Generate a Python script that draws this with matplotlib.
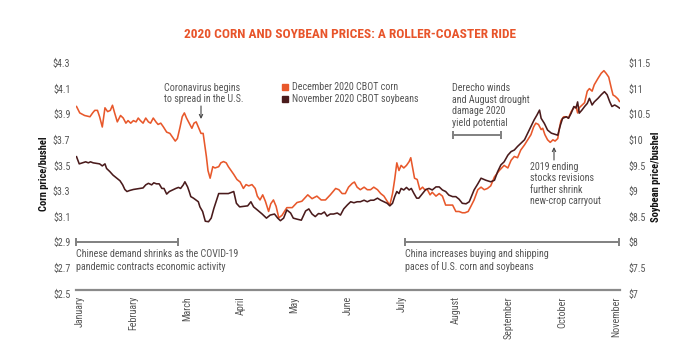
import matplotlib
matplotlib.use("Agg")
import matplotlib.pyplot as plt
import matplotlib.font_manager as fm
from matplotlib.lines import Line2D
from matplotlib.patches import FancyArrowPatch

_installed = {f.name for f in fm.fontManager.ttflist}
_pref = ['Roboto Condensed', 'Archivo Narrow', 'Barlow Semi Condensed',
         'Asap Condensed', 'Liberation Sans Narrow']
FONT = [p for p in _pref if p in _installed][:1] + ['DejaVu Sans']
plt.rcParams['font.family'] = FONT

TITLE = "2020 CORN AND SOYBEAN PRICES: A ROLLER-COASTER RIDE"
months = ["January", "February", "March", "April", "May", "June", "July",
          "August", "September", "October", "November"]
corn_ticks = [2.5, 2.7, 2.9, 3.1, 3.3, 3.5, 3.7, 3.9, 4.1, 4.3]
corn_tick_labels = ["$2.5", "$2.7", "$2.9", "$3.1", "$3.3", "$3.5", "$3.7", "$3.9", "$4.1", "$4.3"]
soy_ticks = [7, 7.5, 8, 8.5, 9, 9.5, 10, 10.5, 11, 11.5]
soy_tick_labels = ["$7", "$7.5", "$8", "$8.5", "$9", "$9.5", "$10", "$10.5", "$11", "$11.5"]

# x positions in months since Jan 1 (0 = January, 10 = November)
corn_x = [-0.06, 0.00, 0.09, 0.19, 0.24, 0.28, 0.33, 0.37, 0.42, 0.47,
          0.52, 0.57, 0.61, 0.65, 0.70, 0.76, 0.81, 0.86, 0.90, 0.95,
          1.00, 1.05, 1.09, 1.13, 1.18, 1.23, 1.28, 1.32, 1.37, 1.42,
          1.46, 1.51, 1.56, 1.62, 1.68, 1.73, 1.78, 1.82, 1.87, 1.91,
          1.95, 1.99, 2.04, 2.09, 2.13, 2.17, 2.21, 2.26, 2.30, 2.36,
          2.39, 2.43, 2.48, 2.52, 2.59, 2.63, 2.68, 2.73, 2.77, 2.82,
          2.87, 2.93, 2.99, 3.05, 3.10, 3.15, 3.21, 3.27, 3.31, 3.36,
          3.41, 3.46, 3.52, 3.56, 3.61, 3.66, 3.71, 3.77, 3.86, 3.96,
          4.05, 4.14, 4.25, 4.33, 4.42, 4.50, 4.58, 4.67, 4.77, 4.83,
          4.89, 4.95, 5.01, 5.08, 5.12, 5.17, 5.23, 5.30, 5.36, 5.42,
          5.48, 5.55, 5.61, 5.67, 5.73, 5.78, 5.83, 5.87, 5.91, 5.95,
          5.99, 6.04, 6.09, 6.14, 6.17, 6.20, 6.24, 6.29, 6.34, 6.39,
          6.43, 6.48, 6.53, 6.57, 6.64, 6.70, 6.76, 6.82, 6.88, 6.95,
          7.01, 7.07, 7.13, 7.18, 7.24, 7.29, 7.35, 7.42, 7.48, 7.54,
          7.60, 7.66, 7.73, 7.82, 7.91, 7.98, 8.04, 8.10, 8.16, 8.22,
          8.29, 8.35, 8.41, 8.46, 8.50, 8.55, 8.60, 8.63, 8.67, 8.72,
          8.77, 8.82, 8.86, 8.91, 8.94, 8.97, 9.02, 9.07, 9.11, 9.16,
          9.21, 9.25, 9.28, 9.31, 9.36, 9.41, 9.46, 9.50, 9.55, 9.59,
          9.66, 9.72, 9.77, 9.81, 9.86, 9.91, 9.94, 9.98, 10.03, 10.06]
corn = [3.96, 3.91, 3.89, 3.88, 3.91, 3.93, 3.93, 3.88, 3.80, 3.95,
        3.92, 3.93, 3.97, 3.91, 3.84, 3.89, 3.87, 3.83, 3.85, 3.83,
        3.85, 3.84, 3.87, 3.85, 3.83, 3.87, 3.84, 3.83, 3.87, 3.84,
        3.82, 3.83, 3.80, 3.76, 3.75, 3.72, 3.69, 3.71, 3.80, 3.88,
        3.91, 3.87, 3.83, 3.79, 3.83, 3.84, 3.80, 3.75, 3.75, 3.57,
        3.46, 3.40, 3.49, 3.48, 3.49, 3.52, 3.53, 3.52, 3.49, 3.46,
        3.43, 3.39, 3.37, 3.32, 3.35, 3.34, 3.35, 3.32, 3.26, 3.23,
        3.27, 3.22, 3.14, 3.20, 3.23, 3.18, 3.09, 3.11, 3.17, 3.17,
        3.21, 3.22, 3.27, 3.24, 3.26, 3.23, 3.23, 3.27, 3.32, 3.31,
        3.28, 3.28, 3.33, 3.36, 3.37, 3.33, 3.31, 3.33, 3.31, 3.31,
        3.33, 3.31, 3.28, 3.26, 3.22, 3.19, 3.28, 3.39, 3.52, 3.46,
        3.50, 3.48, 3.50, 3.53, 3.56, 3.49, 3.40, 3.39, 3.31, 3.33,
        3.31, 3.31, 3.27, 3.29, 3.26, 3.28, 3.26, 3.19, 3.19, 3.19,
        3.14, 3.14, 3.13, 3.13, 3.14, 3.18, 3.23, 3.31, 3.33, 3.31,
        3.32, 3.34, 3.41, 3.46, 3.50, 3.48, 3.54, 3.57, 3.56, 3.62,
        3.66, 3.70, 3.74, 3.80, 3.83, 3.82, 3.78, 3.79, 3.74, 3.70,
        3.68, 3.70, 3.69, 3.71, 3.79, 3.85, 3.88, 3.88, 3.87, 3.92,
        3.95, 3.96, 3.91, 3.95, 3.97, 3.99, 4.08, 4.10, 4.08, 4.13,
        4.18, 4.22, 4.24, 4.22, 4.19, 4.10, 4.05, 4.04, 4.02, 4.00]

soy_x = [-0.06, -0.01, 0.05, 0.11, 0.16, 0.20, 0.25, 0.31, 0.37, 0.42,
         0.47, 0.50, 0.56, 0.62, 0.69, 0.75, 0.80, 0.84, 0.88, 0.93,
         1.00, 1.06, 1.12, 1.18, 1.23, 1.28, 1.34, 1.38, 1.43, 1.48,
         1.53, 1.57, 1.62, 1.67, 1.73, 1.79, 1.84, 1.88, 1.93, 1.96,
         2.01, 2.04, 2.07, 2.12, 2.17, 2.21, 2.24, 2.29, 2.34, 2.40,
         2.45, 2.50, 2.59, 2.68, 2.77, 2.87, 2.92, 2.98, 3.05, 3.13,
         3.19, 3.24, 3.31, 3.40, 3.48, 3.55, 3.63, 3.69, 3.74, 3.80,
         3.86, 3.93, 3.98, 4.05, 4.13, 4.21, 4.27, 4.33, 4.39, 4.45,
         4.50, 4.56, 4.61, 4.67, 4.73, 4.80, 4.86, 4.92, 4.99, 5.05,
         5.11, 5.17, 5.23, 5.30, 5.36, 5.42, 5.48, 5.55, 5.61, 5.67,
         5.73, 5.78, 5.83, 5.87, 5.91, 5.95, 5.99, 6.04, 6.09, 6.14,
         6.18, 6.23, 6.28, 6.32, 6.39, 6.45, 6.51, 6.57, 6.64, 6.70,
         6.76, 6.82, 6.88, 6.95, 7.01, 7.07, 7.13, 7.20, 7.26, 7.30,
         7.35, 7.42, 7.48, 7.57, 7.66, 7.73, 7.79, 7.85, 7.91, 7.98,
         8.04, 8.10, 8.16, 8.22, 8.29, 8.35, 8.41, 8.47, 8.52, 8.57,
         8.60, 8.66, 8.72, 8.79, 8.85, 8.91, 8.96, 9.00, 9.07, 9.11,
         9.16, 9.21, 9.25, 9.28, 9.31, 9.36, 9.41, 9.46, 9.50, 9.55,
         9.59, 9.66, 9.72, 9.78, 9.83, 9.88, 9.92, 9.97, 10.02, 10.06]
soy = [9.67, 9.53, 9.55, 9.57, 9.55, 9.57, 9.55, 9.54, 9.53, 9.49,
       9.53, 9.44, 9.38, 9.31, 9.25, 9.20, 9.12, 9.03, 8.99, 9.01,
       9.03, 9.04, 9.05, 9.06, 9.12, 9.15, 9.12, 9.16, 9.14, 9.14,
       9.05, 9.05, 8.94, 8.99, 9.02, 9.05, 9.07, 9.05, 9.12, 9.18,
       9.08, 8.99, 8.89, 8.86, 8.82, 8.79, 8.69, 8.60, 8.41, 8.40,
       8.47, 8.66, 8.95, 8.95, 8.95, 8.99, 8.76, 8.69, 8.70, 8.71,
       8.79, 8.69, 8.63, 8.55, 8.47, 8.53, 8.55, 8.47, 8.42, 8.47,
       8.63, 8.57, 8.47, 8.45, 8.43, 8.61, 8.65, 8.55, 8.50, 8.56,
       8.55, 8.59, 8.51, 8.55, 8.55, 8.57, 8.53, 8.65, 8.73, 8.79,
       8.77, 8.79, 8.79, 8.82, 8.79, 8.82, 8.82, 8.86, 8.82, 8.79,
       8.76, 8.71, 8.76, 8.89, 8.99, 8.95, 9.05, 9.02, 9.07, 9.02,
       9.05, 8.95, 8.86, 8.86, 8.95, 9.03, 9.05, 9.02, 9.08, 9.08,
       9.02, 8.99, 8.92, 8.89, 8.89, 8.84, 8.76, 8.75, 8.79, 8.89,
       9.02, 9.14, 9.25, 9.21, 9.18, 9.21, 9.38, 9.51, 9.57, 9.70,
       9.77, 9.80, 9.87, 9.93, 10.00, 10.13, 10.26, 10.39, 10.48, 10.58,
       10.42, 10.32, 10.19, 10.13, 10.11, 10.09, 10.29, 10.42, 10.45, 10.42,
       10.52, 10.65, 10.62, 10.74, 10.52, 10.58, 10.65, 10.71, 10.81, 10.68,
       10.74, 10.81, 10.88, 10.94, 10.88, 10.74, 10.65, 10.68, 10.65, 10.62]

# annotated periods (months) and their bar levels (corn axis)
covid_period = (-0.07, 1.83)
china_period = (6.07, 10.06)
derecho_period = (6.95, 7.85)
period_bar_level = 2.9
derecho_bar_level = 3.74

CORN_C = "#E8582B"
SOY_C = "#4A1B1C"
GRAY = "#808080"
TXT = "#555555"
FS = 7.2

W, H = 700, 364
fig = plt.figure(figsize=(W / 100, H / 100), dpi=100)
fig.patch.set_facecolor("white")


def fx(x):
    return x / W


def fy(y):
    return 1 - y / H


ax_left, ax_right, ax_top, ax_bot = 76, 620, 63, 293.4
ax = fig.add_axes([fx(ax_left), fy(ax_bot), (ax_right - ax_left) / W, (ax_bot - ax_top) / H])
ax.set_xlim(-0.07, 10.07)
ax.set_ylim(2.5, 4.3)
ax2 = ax.twinx()
ax2.set_ylim(7, 11.5)
for a in (ax, ax2):
    for s in a.spines.values():
        s.set_visible(False)
    a.patch.set_visible(False)

ax.plot(corn_x, corn, color=CORN_C, lw=1.15, solid_joinstyle="round", zorder=3)
ax2.plot(soy_x, soy, color=SOY_C, lw=1.15, solid_joinstyle="round", zorder=3)

ax.set_yticks(corn_ticks)
ax.set_yticklabels(corn_tick_labels)
ax2.set_yticks(soy_ticks)
ax2.set_yticklabels(soy_tick_labels)
ax.tick_params(axis="y", length=0, pad=4, labelsize=FS, labelcolor=TXT)
ax2.tick_params(axis="y", length=0, pad=6, labelsize=FS, labelcolor=TXT)
ax.set_xticks(range(len(months)))
ax.set_xticklabels(months, rotation=90, va="top", ha="center")
ax.tick_params(axis="x", length=0, pad=2, labelsize=FS, labelcolor=TXT)

# bottom rule
fig.add_artist(Line2D([fx(ax_left), fx(ax_right)], [fy(289.5), fy(289.5)],
                      color="#8a8a8a", lw=1.6))


# period bars
def period_bar(period, level):
    ax.plot(list(period), [level, level], color=GRAY, lw=1.4, marker="|",
            markersize=6, markeredgewidth=1.4, clip_on=False, zorder=2)


period_bar(covid_period, period_bar_level)
period_bar(china_period, period_bar_level)
period_bar(derecho_period, derecho_bar_level)

tkw = dict(fontsize=FS, color=TXT, ha="left", va="center", linespacing=1.17)
fig.text(fx(164), fy(93.5), "Coronavirus begins\nto spread in the U.S.", **tkw)
fig.text(fx(452), fy(105.5), "Derecho winds\nand August drought\ndamage 2020\nyield potential", **tkw)
fig.text(fx(530), fy(184), "2019 ending\nstocks revisions\nfurther shrink\nnew-crop carryout", **tkw)
tkw2 = dict(tkw, linespacing=1.28)
fig.text(fx(76), fy(260.5), "Chinese demand shrinks as the COVID-19\npandemic contracts economic activity", **tkw2)
fig.text(fx(405), fy(260.5), "China increases buying and shipping\npaces of U.S. corn and soybeans", **tkw2)

arrow_kw = dict(arrowstyle="->", color="#444444", lw=0.8, shrinkA=0, shrinkB=0)
fig.add_artist(FancyArrowPatch((fx(201), fy(106)), (fx(201), fy(119)),
                               transform=fig.transFigure, mutation_scale=6, **arrow_kw))
fig.add_artist(FancyArrowPatch((fx(554), fy(160)), (fx(554), fy(147)),
                               transform=fig.transFigure, mutation_scale=6, **arrow_kw))

# legend
handles = [Line2D([], [], marker="s", ls="", color=CORN_C, markersize=5),
           Line2D([], [], marker="s", ls="", color=SOY_C, markersize=5)]
fig.legend(handles, ["December 2020 CBOT corn", "November 2020 CBOT soybeans"],
           loc="upper left", bbox_to_anchor=(fx(281), fy(82)), frameon=False,
           fontsize=FS, handlelength=0.7, handletextpad=0.35, labelspacing=0.2,
           borderpad=0, borderaxespad=0, labelcolor=TXT)

fig.text(0.5, fy(35), TITLE, ha="center", va="center", color="#E8542A",
         fontsize=9.6, fontweight="bold")
fig.text(fx(44), fy(174), "Corn price/bushel", rotation=90, ha="center", va="center",
         fontsize=7.6, fontweight="bold", color="#111111")
fig.text(fx(656), fy(177), "Soybean price/bushel", rotation=90, ha="center", va="center",
         fontsize=7.6, fontweight="bold", color="#111111")

fig.savefig("out.png", dpi=100, facecolor="white")
